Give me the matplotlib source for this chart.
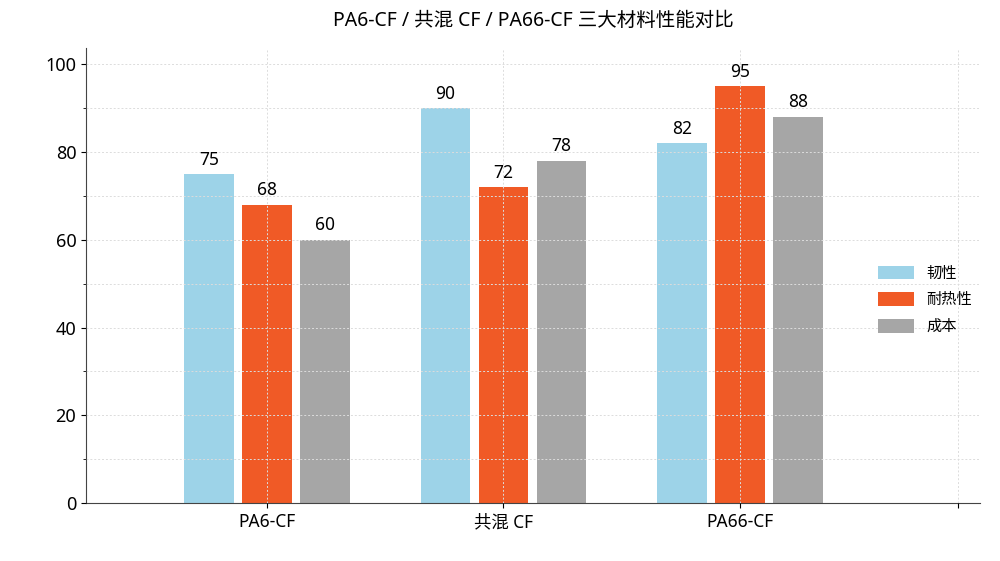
import matplotlib

matplotlib.use("Agg")
import matplotlib.pyplot as plt  # noqa: E402
import numpy as np  # noqa: E402

plt.rcParams["font.family"] = ["Noto Sans", "Noto Sans CJK SC", "DejaVu Sans"]

categories = ["PA6-CF", "共混 CF", "PA66-CF"]
series_names = ["韧性", "耐热性", "成本"]
toughness = [75, 90, 82]
heat = [68, 72, 95]
cost = [60, 78, 88]
colors = ["#9dd3e8", "#f05a26", "#a6a6a6"]

fig = plt.figure(figsize=(10, 5.61), dpi=100)
ax = fig.add_axes([0.086, 0.103, 0.894, 0.811])

x = np.arange(len(categories))
width = 0.21
offset = 0.245
for i, (vals, name, c) in enumerate(zip([toughness, heat, cost], series_names, colors)):
    pos = x + (i - 1) * offset
    ax.bar(pos, vals, width, color=c, label=name, zorder=1)
    for p, v in zip(pos, vals):
        ax.text(p, v + 1.2, str(v), ha="center", va="bottom", fontsize=12.5, zorder=3)

ax.set_xlim(-0.765, 3.015)
ax.set_ylim(0, 103.6)
ax.set_xticks(list(x) + [2.92])
ax.set_xticklabels(categories + [""], fontsize=12.5)
ax.set_yticks(np.arange(0, 101, 20))
ax.set_yticks(np.arange(10, 101, 20), minor=True)
ax.tick_params(axis="y", labelsize=13)
ax.grid(True, which="both", axis="both", linestyle=(0, (2, 2)), color="#dcdcdc", lw=0.7, zorder=2)
ax.set_axisbelow(False)
for s in ["top", "right"]:
    ax.spines[s].set_visible(False)
ax.spines["left"].set_color("#444444")
ax.spines["bottom"].set_color("#444444")

ax.set_title("PA6-CF / 共混 CF / PA66-CF 三大材料性能对比", fontsize=14, pad=16)
ax.legend(loc="center left", bbox_to_anchor=(0.87, 0.446), frameon=False, fontsize=11,
          handlelength=2.4, handleheight=1.0, labelspacing=0.7)

fig.savefig("out.png", dpi=100)
